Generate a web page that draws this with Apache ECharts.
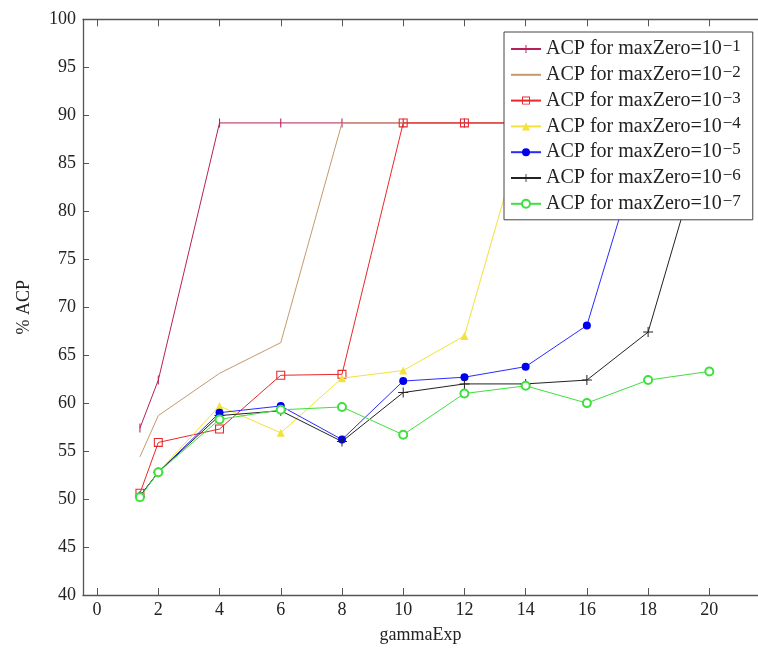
<!DOCTYPE html>
<html>
<head>
<meta charset="utf-8">
<script src="https://cdn.jsdelivr.net/npm/echarts@6/dist/echarts.min.js"></script>
<style>html,body{margin:0;padding:0;background:#fff}#c{width:758px;height:649px}</style>
</head>
<body>
<div id="c"></div>
<script>
const xs = [1.4, 2, 4, 6, 8, 10, 12, 14, 16, 18, 20];
const xTicks = [0, 2, 4, 6, 8, 10, 12, 14, 16, 18, 20];
const exps = ['−1', '−2', '−3', '−4', '−5', '−6', '−7'];
const acp1 = [57.4, 62.4, 89.2, 89.2, 89.2, 89.2, 89.2, 89.2, 89.2, 89.2, 89.2];
const acp2 = [54.4, 58.7, 63.1, 66.3, 89.2, 89.2, 89.2, 89.2, 89.2, 89.2, 89.2];
const acp3 = [50.6, 55.9, 57.3, 62.9, 63.0, 89.2, 89.2, 89.2, 89.2, 89.2, 89.2];
const acp4 = [50.3, 52.8, 59.7, 56.9, 62.6, 63.4, 67.0, 89.2, 89.2, 89.2, 89.2];
const acp5 = [50.3, 52.8, 59.0, 59.7, 56.2, 62.3, 62.7, 63.8, 68.1, 89.2, 89.2];
const acp6 = [50.3, 52.8, 58.7, 59.2, 56.0, 61.1, 62.0, 62.0, 62.4, 67.4, 89.2];
const acp7 = [50.2, 52.8, 58.3, 59.3, 59.6, 56.7, 61.0, 61.8, 60.0, 62.4, 63.3];

const allSeries = [acp1, acp2, acp3, acp4, acp5, acp6, acp7];
const colors = ['#b8205a', '#c49a6c', '#e8282a', '#f2e23a', '#2a2aff', '#222222', '#3ee03e'];
const symbols = [
  'path://M0,0 H0.01 V0.01 H0 Z M4.4,0 H5.6 V10 H4.4 Z M9.99,9.99 H10 V10 H9.99 Z',
  'circle',
  'path://M0,0 H10 V10 H0 Z M1.2,1.2 V8.8 H8.8 V1.2 Z',
  'triangle',
  'circle',
  'path://M4.5,0 H5.5 V4.5 H10 V5.5 H5.5 V10 H4.5 V5.5 H0 V4.5 H4.5 Z',
  'emptyCircle'
];
const sizes = [9, 0, 9, 8, 8, 10, 8];
const FONT = '"Liberation Serif", "DejaVu Serif", serif';
const AX = '#555';

const names = exps.map((e, i) => 'ACP for maxZero=10' + e);

const series = allSeries.map((arr, i) => ({
  name: names[i],
  type: 'line',
  data: xs.map((x, j) => [x, arr[j]]),
  symbol: symbols[i],
  symbolSize: sizes[i],
  showSymbol: i !== 1,
  lineStyle: { color: colors[i], width: 1 },
  itemStyle: { color: i === 4 ? '#0000ee' : colors[i] },
  emphasis: { disabled: true },
  z: 2 + i * 0.01
}));

const chart = echarts.init(document.getElementById('c'), null, { renderer: 'canvas' });
chart.setOption({
  animation: false,
  backgroundColor: '#fff',
  textStyle: { fontFamily: FONT },
  grid: { left: 83, top: 19.3, right: -2, bottom: 48.3, containLabel: false },
  xAxis: [{
    type: 'value', min: -0.46, max: 21.59, position: 'bottom',
    name: 'gammaExp', nameLocation: 'middle', nameGap: 31,
    nameTextStyle: { fontFamily: FONT, fontSize: 18, color: '#222' },
    axisLine: { show: true, onZero: false, lineStyle: { color: AX, width: 1.3 } },
    axisTick: { show: true, inside: true, length: 7, customValues: xTicks, lineStyle: { color: AX } },
    axisLabel: { customValues: xTicks, fontFamily: FONT, fontSize: 18, color: '#222', margin: 6 },
    splitLine: { show: false }
  }, {
    type: 'value', min: -0.46, max: 21.59, position: 'top',
    axisLine: { show: true, onZero: false, lineStyle: { color: AX, width: 1.3 } },
    axisTick: { show: true, inside: true, length: 7, customValues: xTicks, lineStyle: { color: AX } },
    axisLabel: { show: false },
    splitLine: { show: false }
  }],
  yAxis: {
    type: 'value', min: 40, max: 100, interval: 5,
    name: '% ACP', nameLocation: 'middle', nameGap: 50, nameRotate: 90,
    nameTextStyle: { fontFamily: FONT, fontSize: 18, color: '#222' },
    axisLine: { show: true, onZero: false, lineStyle: { color: AX, width: 1.3 } },
    axisTick: { show: true, inside: true, length: 6, lineStyle: { color: AX } },
    axisLabel: { fontFamily: FONT, fontSize: 18, color: '#222', margin: 7 },
    splitLine: { show: false }
  },
  legend: {
    orient: 'vertical', left: 504, top: 32,
    padding: [6, 12, 6, 6],
    itemGap: 4.8, itemWidth: 30, itemHeight: 10,
    backgroundColor: '#fff', borderColor: '#444', borderWidth: 1,
    z: 20,
    data: names.map((n, i) => i === 1 ? { name: n, itemStyle: { opacity: 0 } } : { name: n }),
    formatter: function (n) {
      const i = names.indexOf(n);
      return '{b|ACP for maxZero=10}{s|' + exps[i] + '}';
    },
    textStyle: {
      fontFamily: FONT, fontSize: 20, color: '#222',
      rich: {
        b: { fontFamily: FONT, fontSize: 20, lineHeight: 22, color: '#222' },
        s: { fontFamily: FONT, fontSize: 17, lineHeight: 13, verticalAlign: 'top', color: '#222', padding: [0, 0, 0, 1] }
      }
    }
  },
  series: series
});
</script>
</body>
</html>
